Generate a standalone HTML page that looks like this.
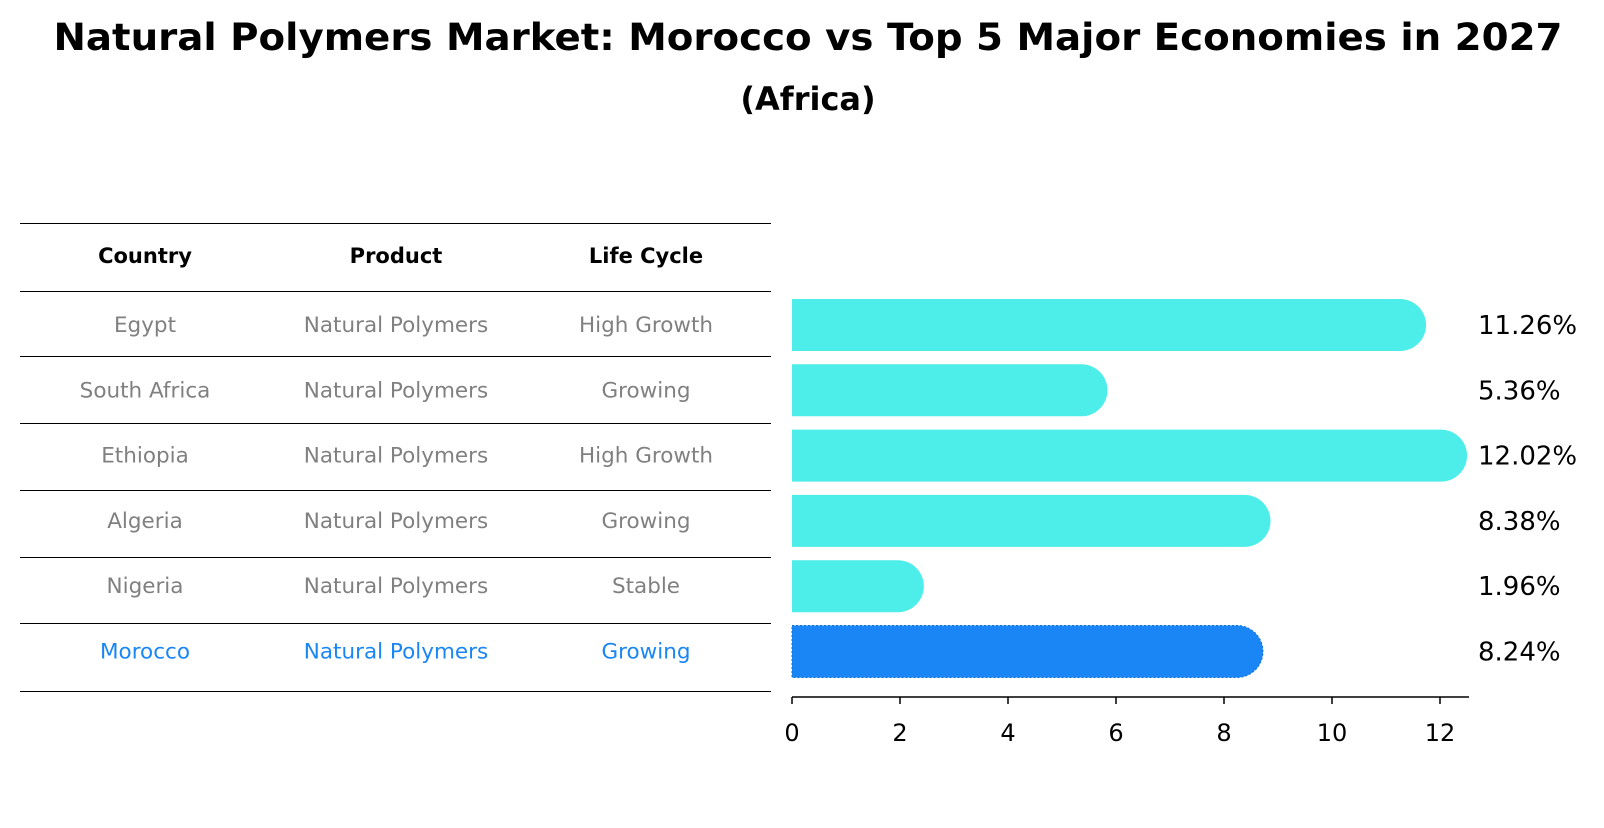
<!DOCTYPE html>
<html><head><meta charset="utf-8"><style>
body{margin:0;background:#fff;font-family:"Liberation Sans","DejaVu Sans",sans-serif}
svg text{font-family:"DejaVu Sans","Liberation Sans",sans-serif}
</style></head><body>
<svg width="1604" height="823" xmlns="http://www.w3.org/2000/svg" id="chart">
<text x="808" y="50" text-anchor="middle" font-size="37" font-weight="bold" textLength="1509" lengthAdjust="spacingAndGlyphs">Natural Polymers Market: Morocco vs Top 5 Major Economies in 2027</text>
<text x="808" y="110" text-anchor="middle" font-size="32" font-weight="bold">(Africa)</text>
<g id="table"></g>
<g id="bars"></g>
</svg>
<script>
const countries=["Egypt","South Africa","Ethiopia","Algeria","Nigeria","Morocco"];
const products=["Natural Polymers","Natural Polymers","Natural Polymers","Natural Polymers","Natural Polymers","Natural Polymers"];
const lifeCycles=["High Growth","Growing","High Growth","Growing","Stable","Growing"];
const values=[11.26,5.36,12.02,8.38,1.96,8.24];
const ticks=[0,2,4,6,8,10,12];
const NS="http://www.w3.org/2000/svg";
function mk(t,a,p){const e=document.createElementNS(NS,t);for(const k in a)e.setAttribute(k,a[k]);p.appendChild(e);return e;}
const tbl=document.getElementById('table'),bars=document.getElementById('bars');
const lines=[223.5,291.5,356.5,423.5,490.5,557.5,623.5,691.5];
lines.forEach(y=>{const l=mk('line',{x1:20,x2:771,y1:y,y2:y,stroke:'#000','stroke-width':1},tbl);

});
const cols=[145,396,646];
["Country","Product","Life Cycle"].forEach((h,i)=>{const t=mk('text',{x:cols[i],y:263,'text-anchor':'middle','font-size':21,'font-weight':'bold'},tbl);t.textContent=h;

});
const rowY=i=>325+i*65.3;
countries.forEach((c,i)=>{const hl=c==="Morocco";[c,products[i],lifeCycles[i]].forEach((v,j)=>{
const t=mk('text',{x:cols[j],y:rowY(i)+7,'text-anchor':'middle','font-size':21.5,fill:hl?'#1a86f5':'#808080'},tbl);t.textContent=v;

});});
const x0=792,sc=54;const xs=v=>x0+v*sc;const bh=52;
values.forEach((v,i)=>{const y=rowY(i)-bh/2;const hl=countries[i]==="Morocco";const w=xs(v)-x0;
const p=mk('path',{d:`M${x0},${y}H${x0+w}A${bh/2},${bh/2} 0 0 1 ${x0+w},${y+bh}H${x0}Z`,fill:hl?'#1a86f5':'#4deee9',stroke:hl?'#0d6fd8':'none','stroke-dasharray':hl?'2,2':'none'},bars);


const t=mk('text',{x:1478,y:rowY(i)+9,'font-size':26},bars);t.textContent=v.toFixed(2)+'%';

});
const ax=mk('line',{x1:x0,x2:1469,y1:697,y2:697,stroke:'#000','stroke-width':1.5},bars);


ticks.forEach(v=>{const l=mk('line',{x1:xs(v),x2:xs(v),y1:697,y2:704,stroke:'#000','stroke-width':1.5},bars);


const t=mk('text',{x:xs(v),y:741,'text-anchor':'middle','font-size':24},bars);t.textContent=v;

});
</script>
</body></html>
